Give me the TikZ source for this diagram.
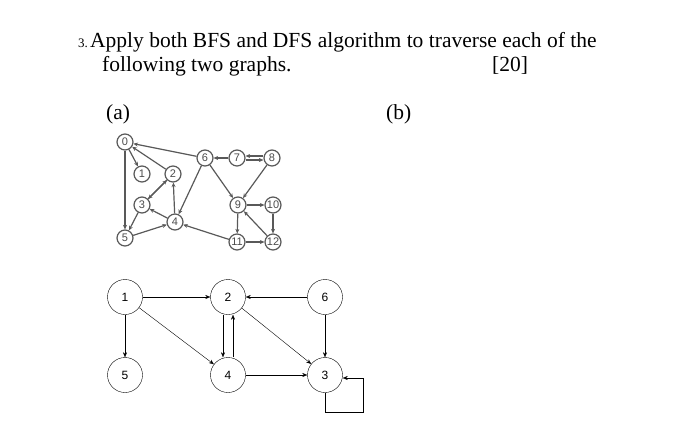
\documentclass[tikz,border=0pt]{standalone}
\usepackage{fontspec}
\setmainfont{Liberation Serif}
\setsansfont{Liberation Sans}
\usetikzlibrary{arrows.meta}
\begin{document}
\begin{tikzpicture}[x=1pt,y=-1pt,
  smallv/.style={circle, draw=gray!70!black, line width=1.2pt, fill=white, minimum size=16pt, inner sep=0pt, font=\sffamily\fontsize{11}{11}\selectfont, text=gray!60!black},
  bigv/.style={circle, draw, fill=white, minimum size=35pt, inner sep=0pt, font=\sffamily\fontsize{12}{12}\selectfont},
  sarr/.style={-{Stealth[length=4.5pt,width=4pt]}, gray!70!black, line width=1.2pt},
  barr/.style={-{Stealth[length=5pt,width=4pt]}, thin}]
\useasboundingbox (0,0) rectangle (700,431);

% Heading
\node[anchor=base west, font=\fontsize{13}{13}\selectfont, inner sep=0pt] (num) at (78,47) {3.};
\node[anchor=base west, font=\fontsize{21.5}{22}\selectfont, inner sep=0pt] (head) at (90,47) {Apply both BFS and DFS algorithm to traverse each of the};
\node[anchor=base west, font=\fontsize{21.5}{22}\selectfont, inner sep=0pt] (head2) at (102,71) {following two graphs.};
\node[anchor=base west, font=\fontsize{21.5}{22}\selectfont, inner sep=0pt] (marks) at (492,71) {[20]};
\node[anchor=base west, font=\fontsize{21.5}{22}\selectfont, inner sep=0pt] (la) at (106,119) {(a)};
\node[anchor=base west, font=\fontsize{21.5}{22}\selectfont, inner sep=0pt] (lb) at (386,119) {(b)};

% Graph (a)
\foreach \n/\x/\y in {0/125/142, 1/142/174, 2/173/174, 3/142/205, 4/175/222, 5/125/238,
  6/205/158, 7/237/158, 8/272/158, 9/238/205, 10/273/205, 11/237/242, 12/273/242}
  \node[smallv] (a\n) at (\x,\y) {\n};

\foreach \s/\t in {6/0, 0/1, 2/0, 0/5, 2/3, 3/2, 3/5, 4/2, 4/3, 5/4, 6/4, 6/9, 7/6, 8/9,
  9/10, 9/11, 10/12, 11/4, 11/12, 12/9}
  \draw[sarr] (a\s) -- (a\t);
\draw[sarr] ([yshift=-2pt]a7.east) -- ([yshift=-2pt]a8.west);
\draw[sarr] ([yshift=2pt]a8.west) -- ([yshift=2pt]a7.east);

% Graph (b)
\foreach \n/\x/\y in {1/125/297, 2/228/297, 6/325/297, 5/125/375, 4/228/375, 3/325/375}
  \node[bigv] (b\n) at (\x,\y) {\n};

\foreach \s/\t in {1/2, 1/5, 1/4, 2/3, 6/2, 6/3, 4/3}
  \draw[barr] (b\s) -- (b\t);
\draw[barr] ([xshift=-5pt]b2.south) -- ([xshift=-5pt]b4.north);
\draw[barr] ([xshift=5pt]b4.north) -- ([xshift=5pt]b2.south);
\coordinate (c1) at (325,412);
\coordinate (c2) at (363,412);
\coordinate (c3) at (363,378);
\draw[barr] (b3.south) -- (c1) -- (c2) -- (c3) -- (b3.east |- c3);
\end{tikzpicture}
\end{document}
